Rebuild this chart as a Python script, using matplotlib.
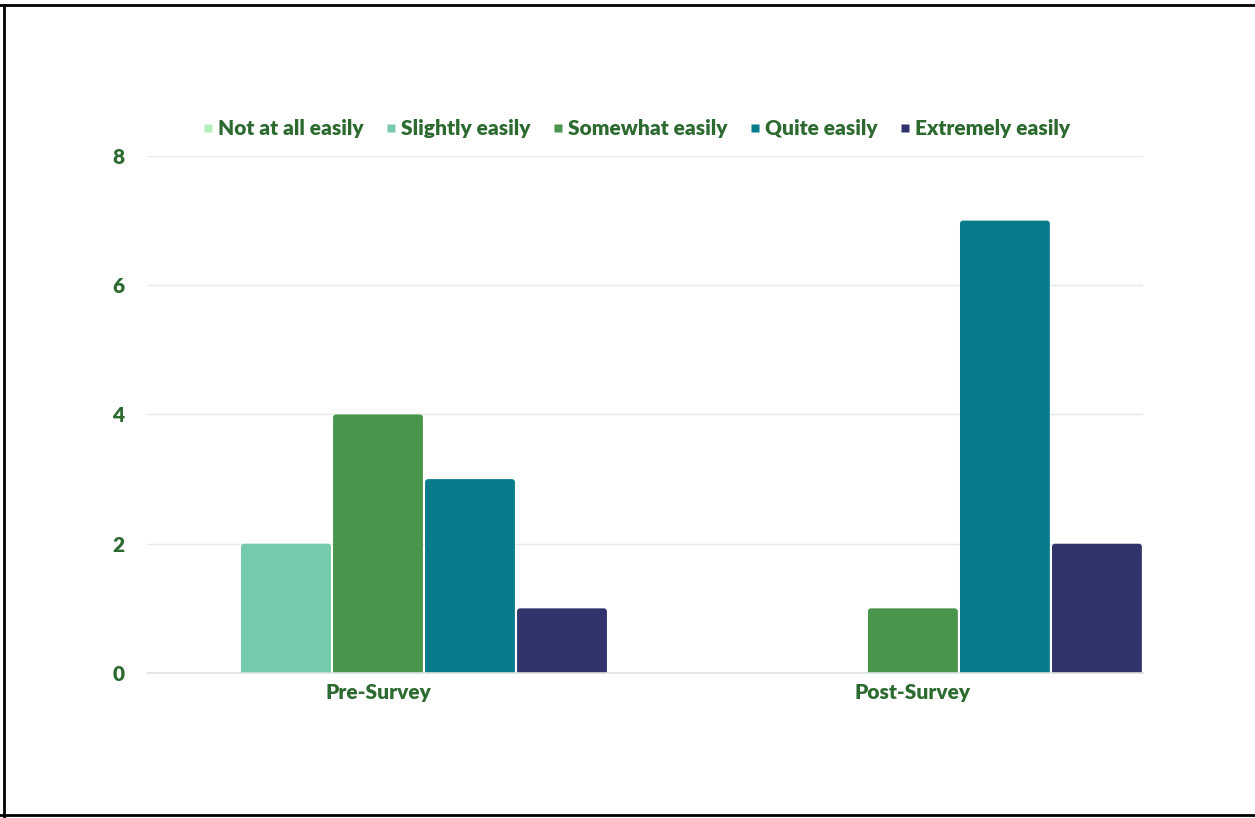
import matplotlib
matplotlib.use("Agg")
import matplotlib.pyplot as plt
import numpy as np
from matplotlib.patches import FancyBboxPatch
from matplotlib.lines import Line2D

groups = ["Pre-Survey", "Post-Survey"]
levels = ["Not at all easily", "Slightly easily", "Somewhat easily", "Quite easily", "Extremely easily"]
pre_values = [0, 2, 4, 3, 1]
post_values = [0, 0, 1, 7, 2]
colors = ["#b5eeb8", "#74cbab", "#48954b", "#077a8c", "#30346b"]
y_ticks = [0, 2, 4, 6, 8]

text_color = "#2c6a30"
grid_color = "#e4eae6"
plt.rcParams["font.family"] = ["Lato", "DejaVu Sans"]

fig = plt.figure(figsize=(12.55, 8.18), dpi=100)
ax = fig.add_axes([0.1179, 0.1773, 0.7928, 0.632])

slot = 0.172
bar_w = 0.168
x = np.arange(len(groups))
values = np.array([pre_values, post_values])

# rounded top corners; aspect = px per x unit / px per y unit
r = 0.0058
aspect = 535.0 / 64.6

for j, lvl in enumerate(levels):
    offs = (j - 2) * slot
    for i in range(len(groups)):
        h = values[i, j]
        if h <= 0:
            continue
        left = x[i] + offs - bar_w / 2
        patch = FancyBboxPatch((left, -0.3), bar_w, h + 0.3,
                               boxstyle=f"round,pad=0,rounding_size={r}",
                               mutation_aspect=aspect,
                               facecolor=colors[j], edgecolor="none",
                               zorder=3)
        ax.add_patch(patch)

ax.set_xlim(-2.5 * slot, 1 + 2.5 * slot)
ax.set_ylim(0, 8)
ax.set_yticks(y_ticks)
ax.set_yticklabels([str(t) for t in y_ticks])
ax.set_xticks(x)
ax.set_xticklabels(groups)

for s in ["top", "right", "left"]:
    ax.spines[s].set_visible(False)
ax.spines["bottom"].set_color("#dbe2de")
ax.spines["bottom"].set_linewidth(1.2)
ax.spines["bottom"].set_zorder(4)

ax.yaxis.grid(True, color=grid_color, linewidth=1)
ax.set_axisbelow(True)
ax.tick_params(axis="both", length=0, colors=text_color, labelsize=15)
ax.tick_params(axis="y", pad=17)
ax.tick_params(axis="x", pad=7)
for lab in ax.get_xticklabels() + ax.get_yticklabels():
    lab.set_fontweight("heavy")

handles = [Line2D([0], [0], marker="s", linestyle="none", markersize=6,
                  markerfacecolor=c, markeredgecolor="none") for c in colors]
leg = fig.legend(handles, levels, loc="center", ncol=5, frameon=False,
                 bbox_to_anchor=(0.506, 1 - 129 / 818), handletextpad=0.1,
                 columnspacing=0.9, handlelength=0.8,
                 prop={"weight": "heavy", "size": 15})
for t in leg.get_texts():
    t.set_color(text_color)

# outer frame (top, left, bottom)
fig.add_artist(Line2D([0, 1], [1 - 5 / 818, 1 - 5 / 818], color="black", linewidth=2, transform=fig.transFigure))
fig.add_artist(Line2D([3.5 / 1255, 3.5 / 1255], [0, 1 - 5 / 818], color="black", linewidth=2, transform=fig.transFigure))
fig.add_artist(Line2D([0, 1], [3 / 818, 3 / 818], color="black", linewidth=2, transform=fig.transFigure))

fig.savefig("out.png", dpi=100, facecolor="white")
